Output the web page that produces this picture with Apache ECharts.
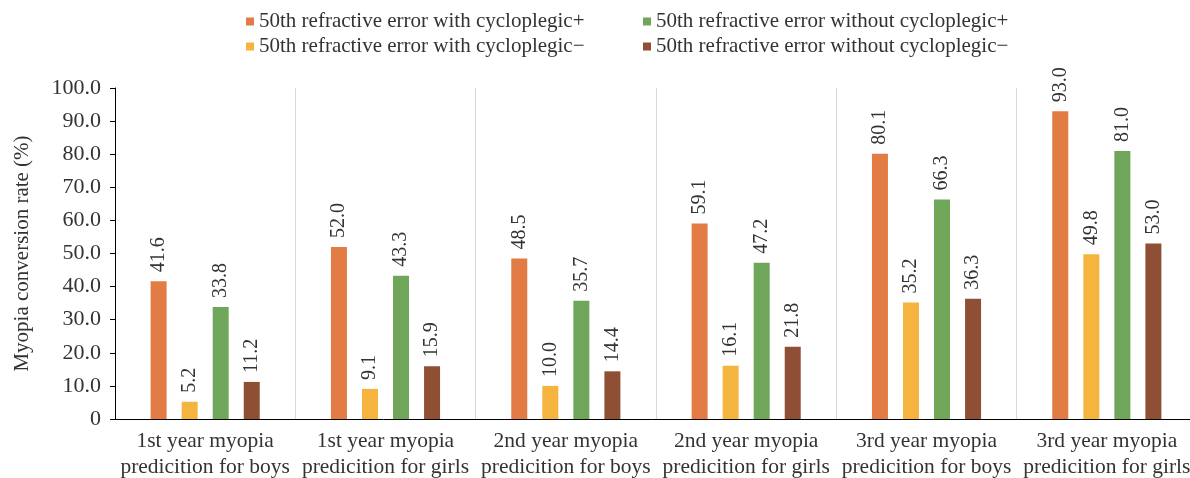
<!DOCTYPE html>
<html>
<head>
<meta charset="utf-8">
<script src="https://cdn.jsdelivr.net/npm/echarts@6/dist/echarts.min.js"></script>
<style>
  html, body { margin: 0; padding: 0; background: #fff; }
  #chart { width: 1190px; height: 478px; }
</style>
</head>
<body>
<div id="chart"></div>
<script>
  // categories on x axis
  var categories = [
    '1st year myopia\npredicition for boys',
    '1st year myopia\npredicition for girls',
    '2nd year myopia\npredicition for boys',
    '2nd year myopia\npredicition for girls',
    '3rd year myopia\npredicition for boys',
    '3rd year myopia\npredicition for girls'
  ];
  var seriesNames = [
    '50th refractive error with cycloplegic+',
    '50th refractive error with cycloplegic\u2212',
    '50th refractive error without cycloplegic+',
    '50th refractive error without cycloplegic\u2212'
  ];
  var withCycloPlus = [41.6, 52.0, 48.5, 59.1, 80.1, 93.0];
  var withCycloMinus = [5.2, 9.1, 10.0, 16.1, 35.2, 49.8];
  var withoutCycloPlus = [33.8, 43.3, 35.7, 47.2, 66.3, 81.0];
  var withoutCycloMinus = [11.2, 15.9, 14.4, 21.8, 36.3, 53.0];
  var colors = ['#E37B45', '#F4B43D', '#70A659', '#8F4F34'];

  var font = '"Liberation Serif", "Times New Roman", serif';
  var chart = echarts.init(document.getElementById('chart'));

  function barSeries(i, data) {
    return {
      name: seriesNames[i],
      type: 'bar',
      data: data,
      barWidth: 16,
      barGap: '94%',
      itemStyle: { color: colors[i] },
      label: {
        show: true,
        position: 'top',
        rotate: 90,
        align: 'left',
        verticalAlign: 'middle',
        distance: 9,
        fontFamily: font,
        fontSize: 20,
        color: '#333',
        formatter: function (p) { return p.value.toFixed(1); }
      }
    };
  }

  var legendText = { fontFamily: font, fontSize: 21, color: '#333' };

  chart.setOption({
    animation: false,
    legend: [
      {
        orient: 'vertical',
        left: 241, top: 6,
        icon: 'rect', itemWidth: 8, itemHeight: 8, itemGap: 4,
        textStyle: legendText,
        data: [seriesNames[0], seriesNames[1]]
      },
      {
        orient: 'vertical',
        left: 638, top: 6,
        icon: 'rect', itemWidth: 8, itemHeight: 8, itemGap: 4,
        textStyle: legendText,
        data: [seriesNames[2], seriesNames[3]]
      }
    ],
    grid: {
      left: 115, top: 88, width: 1082, height: 331,
      containLabel: false, outerBoundsMode: 'none'
    },
    xAxis: {
      type: 'category',
      data: categories,
      axisLine: { lineStyle: { color: '#000', width: 1 } },
      axisTick: { show: false },
      axisLabel: {
        interval: 0,
        fontFamily: font, fontSize: 21.5, color: '#333',
        lineHeight: 26, margin: 9
      },
      splitLine: { show: true, interval: 0, lineStyle: { color: '#d9d9d9', width: 1 } }
    },
    yAxis: {
      type: 'value',
      min: 0, max: 100, interval: 10,
      name: 'Myopia conversion rate (%)',
      nameLocation: 'middle',
      nameGap: 82,
      nameTextStyle: { fontFamily: font, fontSize: 21, color: '#333' },
      axisLine: { show: true, lineStyle: { color: '#000', width: 1 } },
      axisTick: { show: true, length: 5, lineStyle: { color: '#000' } },
      axisLabel: {
        fontFamily: font, fontSize: 22, color: '#333', margin: 14,
        formatter: function (v) { return v === 0 ? '0' : v.toFixed(1); }
      },
      splitLine: { show: false }
    },
    series: [
      barSeries(0, withCycloPlus),
      barSeries(1, withCycloMinus),
      barSeries(2, withoutCycloPlus),
      barSeries(3, withoutCycloMinus)
    ]
  });
</script>
</body>
</html>
